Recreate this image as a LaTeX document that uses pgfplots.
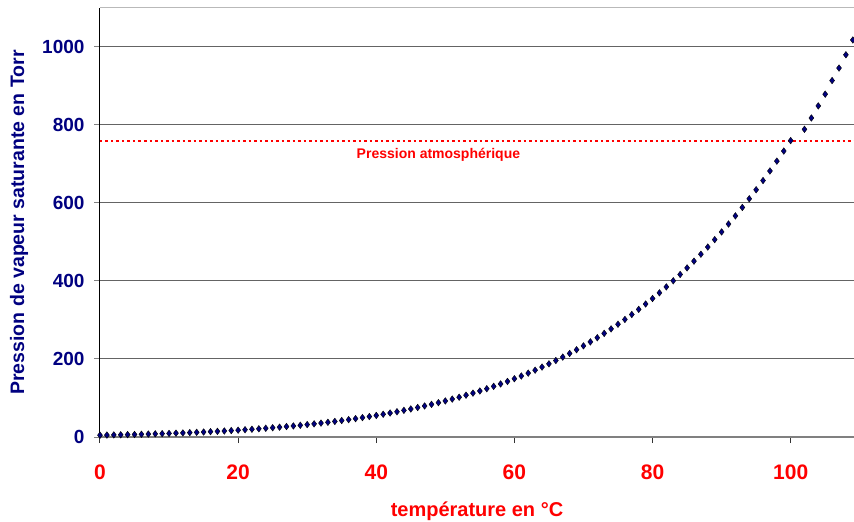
\documentclass[border=0pt]{standalone}
\usepackage{fontspec}
\setmainfont{Liberation Sans}
\usepackage{pgfplots}
\pgfplotsset{compat=1.18}
\definecolor{navyblue}{RGB}{0,0,128}
\definecolor{pred}{RGB}{255,0,0}
\definecolor{gridgray}{RGB}{100,100,100}

\begin{document}
\begin{tikzpicture}
\useasboundingbox (-100pt,-85pt) rectangle (754pt,437pt);
\begin{axis}[
    at={(0,0)}, anchor=south west,
    scale only axis,
    width=754pt, height=429pt,
    xmin=0, xmax=109.17,
    ymin=0, ymax=1100,
    xtick={0,20,40,60,80,100},
    ytick={0,200,400,600,800,1000},
    axis x line*=bottom,
    axis y line*=left,
    x axis line style={draw=gray, line width=1.6pt, -},
    y axis line style={draw=black, line width=1pt, -},
    tick align=outside,
    major tick length=6pt,
    xtick style={draw=black!80, line width=1pt},
    ytick style={draw=gray, line width=1pt},
    ymajorgrids,
    major grid style={draw=gridgray, line width=1pt},
    /pgf/number format/assume math mode=true,
    /pgf/number format/1000 sep={},
    xticklabel style={font=\fontsize{21}{25}\selectfont\bfseries, text=pred, yshift=-18pt},
    yticklabel style={font=\fontsize{19}{22}\selectfont\bfseries, text=navyblue, xshift=-6pt},
    xlabel={température en °C},
    ylabel={Pression de vapeur saturante en Torr},
    xlabel style={at={(axis description cs:0.5,0)}, anchor=center, yshift=-74pt,
        font=\fontsize{20}{24}\selectfont\bfseries, text=pred},
    ylabel style={at={(axis description cs:0,0.5)}, anchor=center, yshift=81pt,
        font=\fontsize{19.5}{23}\selectfont\bfseries, text=navyblue},
    clip=false,
]
% atmospheric pressure
\addplot[pred, line width=2pt, dash pattern=on 2.5pt off 3pt, forget plot]
    coordinates {(0,760) (109.17,760)};
\node[text=pred, font=\fontsize{14}{17}\selectfont\bfseries] at (axis cs:49,723) {Pression atmosphérique};
% top border
\draw[gray!55, line width=1pt] (rel axis cs:0,1) -- (rel axis cs:1,1);

\addplot[only marks, mark=diamond*, mark size=3.3pt,
    mark options={draw=none, fill=navyblue}] coordinates {
(0,4.58) (1,4.93) (2,5.29) (3,5.69) (4,6.10) (5,6.54) (6,7.01) (7,7.51) (8,8.05) (9,8.61)
(10,9.21) (11,9.84) (12,10.52) (13,11.23) (14,11.99) (15,12.79) (16,13.63) (17,14.53) (18,15.48) (19,16.48)
(20,17.54) (21,18.65) (22,19.83) (23,21.07) (24,22.38) (25,23.76) (26,25.21) (27,26.74) (28,28.35) (29,30.04)
(30,31.82) (31,33.70) (32,35.66) (33,37.73) (34,39.90) (35,42.18) (36,44.56) (37,47.07) (38,49.69) (39,52.44)
(40,55.32) (41,58.34) (42,61.50) (43,64.80) (44,68.26) (45,71.88) (46,75.65) (47,79.60) (48,83.71) (49,88.02)
(50,92.51) (51,97.20) (52,102.09) (53,107.20) (54,112.51) (55,118.04) (56,123.80) (57,129.82) (58,136.08) (59,142.60)
(60,149.38) (61,156.43) (62,163.77) (63,171.38) (64,179.31) (65,187.54) (66,196.09) (67,204.96) (68,214.17) (69,223.73)
(70,233.7) (71,243.9) (72,254.6) (73,265.7) (74,277.2) (75,289.1) (76,301.4) (77,314.1) (78,327.3) (79,341.0)
(80,355.1) (81,369.7) (82,384.9) (83,400.6) (84,416.8) (85,433.6) (86,450.9) (87,468.7) (88,487.1) (89,506.1)
(90,525.8) (91,546.1) (92,567.0) (93,588.6) (94,610.9) (95,633.9) (96,657.6) (97,682.1) (98,707.3) (99,733.2)
(100,760.0) (102,789) (103,818) (104,849) (105,879) (106,914) (107,946) (108,980) (109,1018)
};
\end{axis}
\end{tikzpicture}
\end{document}
